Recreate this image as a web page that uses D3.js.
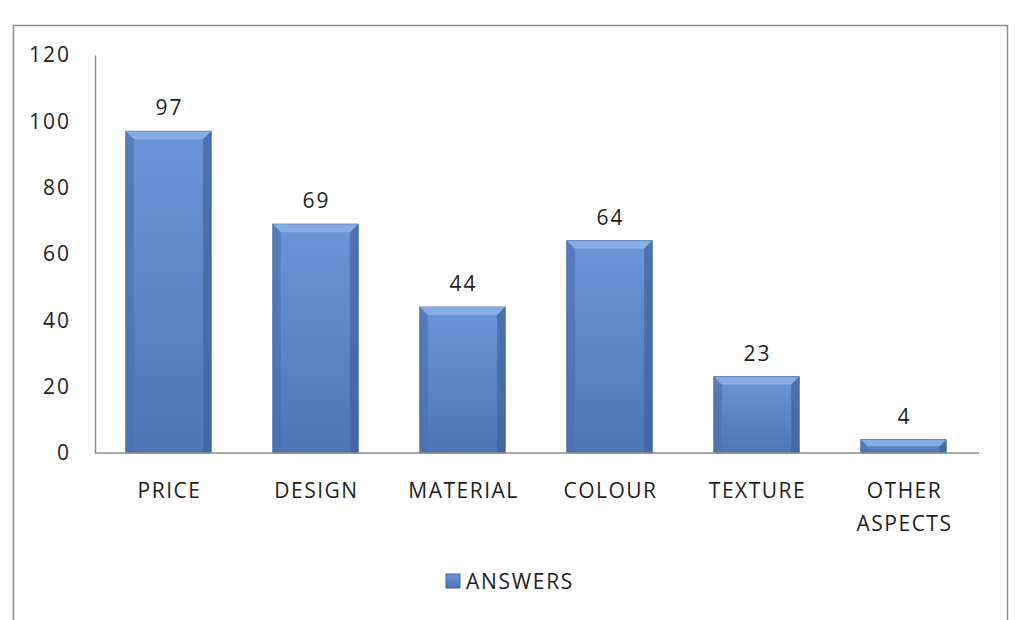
<!DOCTYPE html>
<html>
<head>
<meta charset="utf-8">
<script src="https://cdn.jsdelivr.net/npm/d3@7"></script>
<style>
  body { margin: 0; background: #fff; }
  text { font-family: "Open Sans", "Noto Sans", sans-serif; fill: #1e1e1e; }
</style>
</head>
<body>
<svg id="chart" width="1022" height="620"></svg>
<script>
const categories = [["PRICE"], ["DESIGN"], ["MATERIAL"], ["COLOUR"], ["TEXTURE"], ["OTHER", "ASPECTS"]];
const answers = [97, 69, 44, 64, 23, 4];
const yTicks = [0, 20, 40, 60, 80, 100, 120];

const fontSize = "21px";
const svg = d3.select("#chart");
const margin = { top: 55, left: 95, right: 45, bottom: 167 };
const width = 1022 - margin.left - margin.right;
const height = 620 - margin.top - margin.bottom;

// outer frame
svg.append("rect")
  .attr("x", 13.5).attr("y", 25.5)
  .attr("width", 994).attr("height", 620)
  .attr("fill", "none").attr("stroke", "#8c8c8c").attr("stroke-width", 1.5);

const defs = svg.append("defs");
const grad = defs.append("linearGradient").attr("id", "barGrad")
  .attr("x1", 0).attr("y1", 0).attr("x2", 0).attr("y2", 1);
grad.append("stop").attr("offset", "0%").attr("stop-color", "#6a95d8");
grad.append("stop").attr("offset", "100%").attr("stop-color", "#4e76b6");

const g = svg.append("g").attr("transform", `translate(${margin.left},${margin.top})`);

const x = d3.scaleBand()
  .domain(categories.map(d => d.join(" ")))
  .range([0, width])
  .paddingInner(0.42)
  .paddingOuter(0.21);

const y = d3.scaleLinear().domain([0, 120]).range([height, 0]);

// y axis
const yAxis = g.append("g")
  .call(d3.axisLeft(y).tickValues(yTicks).tickSize(0).tickPadding(24));
yAxis.select(".domain").attr("stroke", "#8c8c8c").attr("stroke-width", 1.5);
yAxis.selectAll("text").style("font-size", fontSize).attr("fill", "#1e1e1e")
  .style("font-family", "'Open Sans', sans-serif")
  .style("letter-spacing", "2px");

// bars
const bars = g.selectAll(".bar")
  .data(answers)
  .enter().append("g")
  .attr("class", "bar");

bars.append("rect")
  .attr("x", (d, i) => x(categories[i].join(" ")))
  .attr("y", d => y(d))
  .attr("width", x.bandwidth())
  .attr("height", d => height - y(d))
  .attr("fill", "url(#barGrad)")
  .attr("stroke", "#3f62a0")
  .attr("stroke-width", 1);

// bevel: light top strip, darker sides
const bevel = 8;
bars.each(function (d, i) {
  const x0 = x(categories[i].join(" "));
  const x1 = x0 + x.bandwidth();
  const y0 = y(d);
  const y1 = y(0);
  const b = Math.min(bevel, (y1 - y0) / 2);
  const sel = d3.select(this);
  sel.append("path")
    .attr("d", `M${x0},${y0}L${x1},${y0}L${x1 - b},${y0 + b}L${x0 + b},${y0 + b}Z`)
    .attr("fill", "#8cb1e8").attr("opacity", 0.85);
  sel.append("path")
    .attr("d", `M${x0},${y0}L${x0 + b},${y0 + b}L${x0 + b},${y1}L${x0},${y1}Z`)
    .attr("fill", "#4a70ad").attr("opacity", 0.65);
  sel.append("path")
    .attr("d", `M${x1},${y0}L${x1 - b},${y0 + b}L${x1 - b},${y1}L${x1},${y1}Z`)
    .attr("fill", "#3d5f99").attr("opacity", 0.65);
});

// value labels
g.selectAll(".val")
  .data(answers)
  .enter().append("text")
  .attr("x", (d, i) => x(categories[i].join(" ")) + x.bandwidth() / 2 + 1)
  .attr("y", d => y(d) - 16)
  .attr("text-anchor", "middle")
  .style("font-size", fontSize)
  .style("letter-spacing", "2px")
  .text(d => d);

// x axis
g.append("line")
  .attr("x1", 0).attr("x2", width + 2)
  .attr("y1", height).attr("y2", height)
  .attr("stroke", "#8c8c8c").attr("stroke-width", 1.5);

g.selectAll(".cat")
  .data(categories)
  .enter().append("text")
  .attr("text-anchor", "middle")
  .style("font-size", fontSize)
  .style("letter-spacing", "1.5px")
  .attr("x", d => x(d.join(" ")) + x.bandwidth() / 2 + 1)
  .attr("y", height + 45)
  .each(function (d) {
    d3.select(this).selectAll("tspan")
      .data(d).enter().append("tspan")
      .attr("x", d3.select(this).attr("x"))
      .attr("dy", (t, k) => k === 0 ? 0 : 33)
      .text(t => t);
  });

// legend
const legend = svg.append("g").attr("transform", "translate(446,574)");
legend.append("rect")
  .attr("width", 14).attr("height", 14)
  .attr("fill", "url(#barGrad)").attr("stroke", "#3f62a0");
legend.append("text")
  .attr("x", 20).attr("y", 15)
  .style("font-size", fontSize)
  .style("letter-spacing", "1.7px")
  .text("ANSWERS");
</script>
</body>
</html>
